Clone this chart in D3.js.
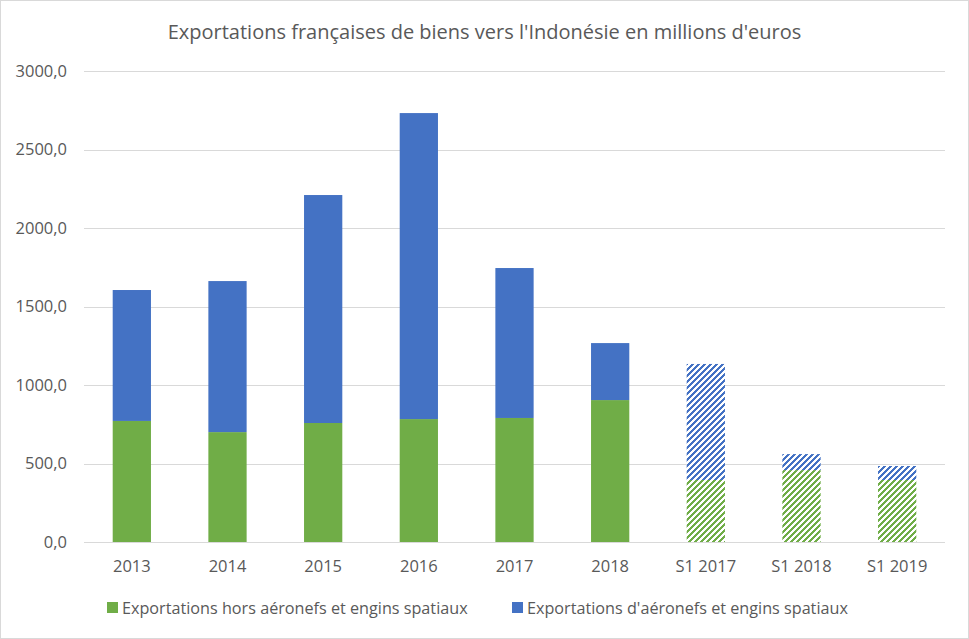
<!DOCTYPE html>
<html lang="fr">
<head>
  <meta charset="utf-8">
  <title>Exportations françaises vers l'Indonésie</title>
  <style>
    body { margin: 0; background: #fff; }
    svg { font-family: "Open Sans", sans-serif; display: block; }
  </style>
</head>
<body>
  <div id="chart"></div>
  <script src="https://d3js.org/d3.v7.min.js"></script>
  <script>
const categories = ["2013", "2014", "2015", "2016", "2017", "2018", "S1 2017", "S1 2018", "S1 2019"];
const horsAero = [771, 700, 758, 783, 790, 904, 395, 458, 395];
const aero = [834, 962, 1452, 1949, 955, 363, 739, 102, 89];
const hatched = [false, false, false, false, false, false, true, true, true];
const yTicks = [0, 500, 1000, 1500, 2000, 2500, 3000];

const seriesNames = ["Exportations hors aéronefs et engins spatiaux", "Exportations d'aéronefs et engins spatiaux"];
const colors = ["#70ad47", "#4472c4"];

const width = 969, height = 639;
const margin = { top: 71, right: 24, bottom: 97, left: 84 };

const svg = d3.select("#chart").append("svg")
    .attr("width", width)
    .attr("height", height);

svg.append("rect")
    .attr("x", 0.5).attr("y", 0.5)
    .attr("width", width - 1).attr("height", height - 1)
    .attr("fill", "#fff").attr("stroke", "#d9d9d9");

// pixel hatch (wide upward diagonal) for the half-year bars, 6px tile
const tile = 6;
const hatchCells = [];
for (let row = 0; row < tile; row++) {
    for (let k = 0; k < 3; k++) hatchCells.push([(tile - 1 - row + k + tile) % tile, row]);
}
const defs = svg.append("defs");
colors.forEach((c, i) => {
    const p = defs.append("pattern")
        .attr("id", "hatch" + i)
        .attr("patternUnits", "userSpaceOnUse")
        .attr("width", tile).attr("height", tile);
    p.append("rect").attr("width", tile).attr("height", tile).attr("fill", "#fff");
    p.selectAll("rect.px")
        .data(hatchCells)
        .join("rect")
        .attr("class", "px")
        .attr("x", d => d[0]).attr("y", d => d[1])
        .attr("width", 1).attr("height", 1)
        .attr("fill", c)
        .attr("shape-rendering", "crispEdges");
});

const x = d3.scaleBand()
    .domain(categories)
    .range([margin.left, width - margin.right])
    .paddingInner(0.6)
    .paddingOuter(0.3);

const y = d3.scaleLinear()
    .domain([0, 3000])
    .range([height - margin.bottom, margin.top]);

// grid
svg.append("g")
    .selectAll("line")
    .data(yTicks)
    .join("line")
    .attr("x1", margin.left)
    .attr("x2", width - margin.right)
    .attr("y1", d => Math.round(y(d)) + 0.5)
    .attr("y2", d => Math.round(y(d)) + 0.5)
    .attr("stroke", "#d9d9d9")
    .attr("stroke-width", 1);

// y labels
svg.append("g")
    .selectAll("text")
    .data(yTicks)
    .join("text")
    .attr("x", 67)
    .attr("y", d => y(d))
    .attr("dy", "0.35em")
    .attr("text-anchor", "end")
    .attr("fill", "#595959")
    .style("font-size", "16.5px")
    .text(d => d3.format(".1f")(d).replace(".", ","));

// stacked bars
const rows = categories.map((c, i) => ({ cat: c, s0: horsAero[i], s1: aero[i], hatch: hatched[i] }));
const stack = d3.stack().keys(["s0", "s1"])(rows);

stack.forEach((layer, li) => {
    svg.append("g")
        .selectAll("rect")
        .data(layer)
        .join("rect")
        .attr("x", d => x(d.data.cat))
        .attr("width", x.bandwidth())
        .attr("y", d => y(d[1]))
        .attr("height", d => y(d[0]) - y(d[1]))
        .attr("fill", d => d.data.hatch ? `url(#hatch${li})` : colors[li]);
});

// x labels
svg.append("g")
    .selectAll("text")
    .data(categories)
    .join("text")
    .attr("x", d => x(d) + x.bandwidth() / 2)
    .attr("y", 572)
    .attr("text-anchor", "middle")
    .attr("fill", "#595959")
    .style("font-size", "16.5px")
    .text(d => d);

// title
svg.append("text")
    .attr("x", width / 2)
    .attr("y", 39)
    .attr("text-anchor", "middle")
    .attr("fill", "#595959")
    .style("font-size", "20px")
    .text("Exportations françaises de biens vers l'Indonésie en millions d'euros");

// legend
const legendX = [107, 512];
const legend = svg.append("g")
    .selectAll("g")
    .data(seriesNames)
    .join("g")
    .attr("transform", (d, i) => `translate(${legendX[i]},602)`);
legend.append("rect")
    .attr("width", 11).attr("height", 11)
    .attr("fill", (d, i) => colors[i]);
legend.append("text")
    .attr("x", 15)
    .attr("y", 12)
    .attr("fill", "#595959")
    .style("font-size", "16.2px")
    .text(d => d);
  </script>
</body>
</html>
